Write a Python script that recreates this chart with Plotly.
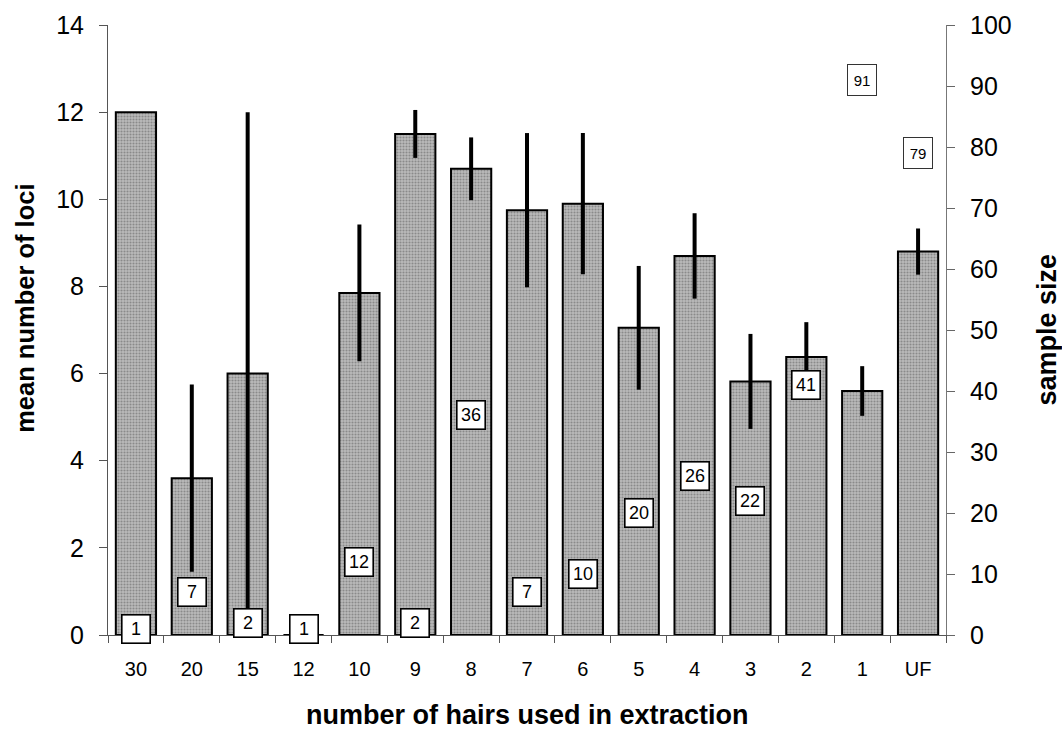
import plotly.graph_objects as go

# number of hairs per extraction (UF = unknown / follicle)
categories = ["30", "20", "15", "12", "10", "9", "8", "7", "6", "5", "4", "3", "2", "1", "UF"]
# mean number of loci amplified
mean_loci = [12.0, 3.6, 6.0, 0.0, 7.85, 11.5, 10.7, 9.75, 9.9, 7.05, 8.7, 5.82, 6.38, 5.6, 8.8]
# error (+/-) on the mean
loci_err = [0.0, 2.15, 6.0, 0.0, 1.57, 0.55, 0.72, 1.77, 1.62, 1.42, 0.98, 1.09, 0.8, 0.57, 0.53]
# sample size per category
sample_size = [1, 7, 2, 1, 12, 2, 36, 7, 10, 20, 26, 22, 41, 91, 79]

FONT = "Arial, Liberation Sans, sans-serif"

fig = go.Figure()

fig.add_trace(go.Bar(
    x=categories,
    y=mean_loci,
    marker=dict(
        color="#a6a6a6",
        line=dict(color="black", width=2),
        pattern=dict(shape=".", fgcolor="#5a5a5a", bgcolor="#bababa",
                     size=3, solidity=0.38),
    ),
    error_y=dict(type="data", array=loci_err, visible=True,
                 color="black", thickness=4, width=0),
    hoverinfo="skip",
))

# invisible trace on the sample-size axis so it is laid out
fig.add_trace(go.Scatter(
    x=categories, y=sample_size, yaxis="y2", mode="markers",
    marker=dict(opacity=0), hoverinfo="skip", showlegend=False,
))

# boxed sample-size labels (x given as category index)
for i, n in enumerate(sample_size):
    small = n > 60
    fig.add_annotation(
        x=i, y=n, xref="x", yref="y2", text=str(n), showarrow=False,
        font=dict(family=FONT, size=15 if small else 18, color="black"),
        bgcolor="white", bordercolor="#333" if small else "black",
        borderwidth=1 if small else 1.6,
        width=26 if small else 25, height=28 if small else 25, borderpad=1,
        xanchor="center", yanchor="middle",
    )

# axis titles
fig.add_annotation(x=-0.1, y=0.535, xref="paper", yref="paper",
                   xanchor="center", yanchor="middle",
                   text="<b>mean number of loci</b>", textangle=-90,
                   showarrow=False, font=dict(family=FONT, size=25.5, color="black"))
fig.add_annotation(x=1.12, y=0.5, xref="paper", yref="paper",
                   xanchor="center", yanchor="middle",
                   text="<b>sample size</b>", textangle=-90,
                   showarrow=False, font=dict(family=FONT, size=27, color="black"))
fig.add_annotation(x=0.5, y=-0.131, xref="paper", yref="paper",
                   xanchor="center", yanchor="middle",
                   text="<b>number of hairs used in extraction</b>",
                   showarrow=False, font=dict(family=FONT, size=27, color="black"))

fig.update_layout(
    width=1062, height=731,
    margin=dict(l=108, r=116, t=25, b=96),
    paper_bgcolor="white", plot_bgcolor="white",
    showlegend=False, bargap=0.28,
    font=dict(family=FONT, color="black"),
    xaxis=dict(
        type="category", categoryorder="array", categoryarray=categories,
        range=[-0.5, 14.5], tickangle=0,
        tickson="boundaries", ticks="outside", ticklen=7, tickcolor="#555",
        showline=True, linecolor="#555", linewidth=1, showgrid=False,
        tickfont=dict(size=20), zeroline=False, ticklabelstandoff=16,
    ),
    yaxis=dict(
        range=[0, 14], dtick=2, ticks="outside", ticklen=8, tickcolor="#555",
        showline=True, linecolor="#555", linewidth=1, showgrid=False,
        zeroline=False, tickfont=dict(size=25), ticklabelstandoff=10,
    ),
    yaxis2=dict(
        range=[0, 100], dtick=10, overlaying="y", side="right",
        ticks="outside", ticklen=8, tickcolor="#666",
        showline=True, linecolor="#777", linewidth=1, showgrid=False,
        zeroline=False, tickfont=dict(size=25), ticklabelstandoff=10,
    ),
)

fig.write_html("out.html")
